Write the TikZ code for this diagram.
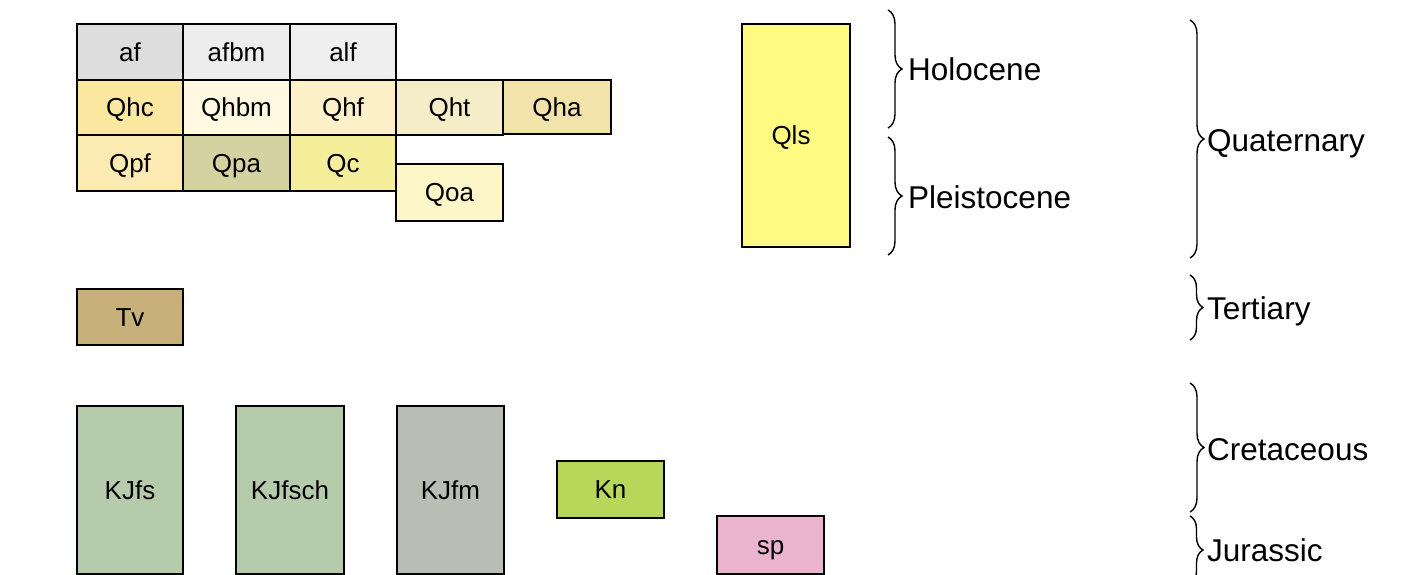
\documentclass[tikz,border=0pt]{standalone}
\usepackage{fontspec}
\setmainfont{Liberation Sans}
\usetikzlibrary{decorations.pathreplacing}
\definecolor{cAf}{HTML}{DDDDDD}
\definecolor{cAfbm}{HTML}{EDEDED}
\definecolor{cAlf}{HTML}{EFEFEF}
\definecolor{cQhc}{HTML}{FBE8A0}
\definecolor{cQhbm}{HTML}{FEF9E0}
\definecolor{cQhf}{HTML}{FCF0C8}
\definecolor{cQht}{HTML}{F5ECC8}
\definecolor{cQha}{HTML}{F2E3AA}
\definecolor{cQpf}{HTML}{FBEBB2}
\definecolor{cQpa}{HTML}{D5D2A2}
\definecolor{cQc}{HTML}{F5EF9C}
\definecolor{cQoa}{HTML}{FCF6C8}
\definecolor{cQls}{HTML}{FFFA82}
\definecolor{cTv}{HTML}{C8B07A}
\definecolor{cKJfs}{HTML}{B6CBAB}
\definecolor{cKJfm}{HTML}{B8BEB3}
\definecolor{cKn}{HTML}{B6D75A}
\definecolor{cSp}{HTML}{EBB4CE}
\begin{document}
\begin{tikzpicture}[x=1pt,y=-1pt,
  geo/.style={draw=black, line width=1.4pt, inner sep=0pt, anchor=center,
    font=\fontsize{26}{31}\selectfont, text height=18.6pt, text depth=0pt},
  period/.style={anchor=base west, inner sep=0pt, font=\fontsize{31.5}{38}\selectfont},
  brc/.style={decorate, decoration={brace, amplitude=#1}, line width=1.4pt},
  brc/.default=13pt]
\useasboundingbox (0,0) rectangle (1403,575);
\clip (0,0) rectangle (1403,575);
% Quaternary boxes
\node[geo, fill=cAf,   minimum width=106, minimum height=56] (af)   at (130,52)    {af};
\node[geo, fill=cAfbm, minimum width=107, minimum height=56] (afbm) at (236.5,52)  {afbm};
\node[geo, fill=cAlf,  minimum width=106, minimum height=56] (alf)  at (343,52)    {alf};
\node[geo, fill=cQhc,  minimum width=106, minimum height=55] (Qhc)  at (130,107.5) {Qhc};
\node[geo, fill=cQhbm, minimum width=107, minimum height=55] (Qhbm) at (236.5,107.5) {Qhbm};
\node[geo, fill=cQhf,  minimum width=106, minimum height=55] (Qhf)  at (343,107.5) {Qhf};
\node[geo, fill=cQht,  minimum width=107, minimum height=55] (Qht)  at (449.5,107.5) {Qht};
\node[geo, fill=cQha,  minimum width=108, minimum height=54] (Qha)  at (557,107)   {Qha};
\node[geo, fill=cQpf,  minimum width=106, minimum height=56] (Qpf)  at (130,163)   {Qpf};
\node[geo, fill=cQpa,  minimum width=107, minimum height=56] (Qpa)  at (236.5,163) {Qpa};
\node[geo, fill=cQc,   minimum width=106, minimum height=56] (Qc)   at (343,163)   {Qc};
\node[geo, fill=cQoa,  minimum width=107, minimum height=57] (Qoa)  at (449.5,192.5) {Qoa};
\node[geo, fill=cQls,  minimum width=108, minimum height=223] (Qls) at (796,135.5) {\hspace*{-10pt}Qls};
% Tertiary
\node[geo, fill=cTv,   minimum width=106, minimum height=56] (Tv)   at (130,317)   {Tv};
% Cretaceous / Jurassic
\node[geo, fill=cKJfs, minimum width=106, minimum height=168] (KJfs)   at (130,490)   {KJfs};
\node[geo, fill=cKJfs, minimum width=108, minimum height=168] (KJfsch) at (290,490)   {KJfsch};
\node[geo, fill=cKJfm, minimum width=107, minimum height=168] (KJfm)   at (450.5,490) {KJfm};
\node[geo, fill=cKn,   minimum width=107, minimum height=57]  (Kn)     at (610.5,489.5) {Kn};
\node[geo, fill=cSp,   minimum width=107, minimum height=58]  (sp)     at (770.5,545) {sp};
% braces
\coordinate (hT) at (888,10);   \coordinate (hB) at (888,128);
\coordinate (pT) at (888,137);  \coordinate (pB) at (888,255);
\coordinate (qT) at (1190,20);  \coordinate (qB) at (1190,258);
\coordinate (tT) at (1190,275); \coordinate (tB) at (1190,340);
\coordinate (cT) at (1190,383); \coordinate (cB) at (1190,512);
\coordinate (jT) at (1190,516); \coordinate (jB) at (1190,584);
\draw[brc=14pt] (hT) -- (hB);
\draw[brc=14pt] (pT) -- (pB);
\draw[brc=14pt] (qT) -- (qB);
\draw[brc=13pt] (tT) -- (tB);
\draw[brc=14pt] (cT) -- (cB);
\draw[brc=13pt] (jT) -- (jB);
% period labels
\node[period] (holo)  at (908,80.3)   {Holocene};
\node[period] (pleis) at (908,208.3)  {Pleistocene};
\node[period] (quat)  at (1207,151.3) {Quaternary};
\node[period] (tert)  at (1207,319.3) {Tertiary};
\node[period] (cret)  at (1207,460.3) {Cretaceous};
\node[period] (jura)  at (1207,561.3) {Jurassic};
\end{tikzpicture}
\end{document}
